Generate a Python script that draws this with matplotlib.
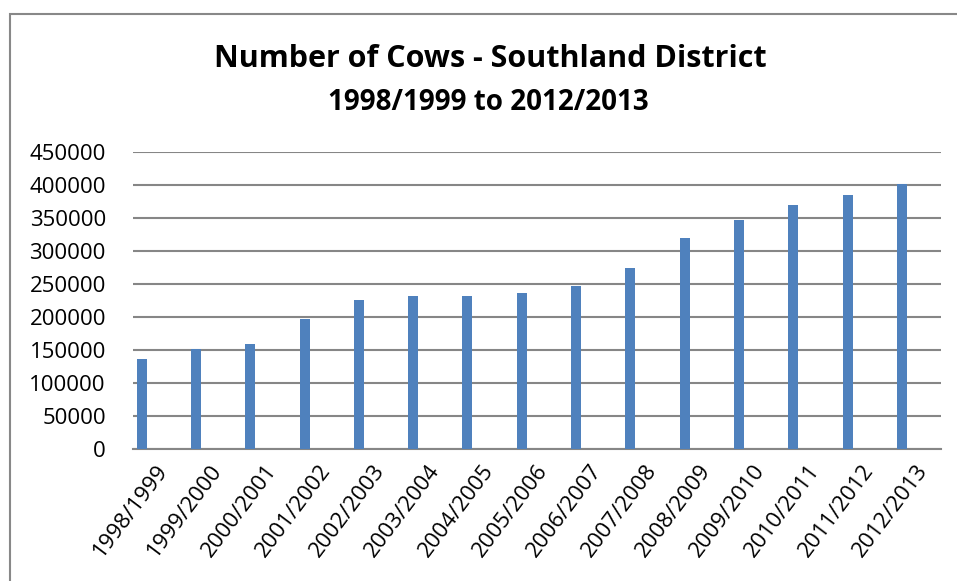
import matplotlib
matplotlib.use("Agg")
import matplotlib.pyplot as plt
import matplotlib.transforms as mtransforms
from matplotlib.patches import Rectangle

seasons = ["1998/1999", "1999/2000", "2000/2001", "2001/2002", "2002/2003",
           "2003/2004", "2004/2005", "2005/2006", "2006/2007", "2007/2008",
           "2008/2009", "2009/2010", "2010/2011", "2011/2012", "2012/2013"]
cows = [135500, 150500, 158500, 196500, 225000, 231300, 231800, 235400,
        246000, 273700, 318700, 346000, 369700, 384300, 400500]
yticks = list(range(0, 450001, 50000))

plt.rcParams['font.family'] = ['Open Sans', 'DejaVu Sans']

W, H = 957, 581
fig = plt.figure(figsize=(W / 100, H / 100), dpi=100)

# outer chart border (cut off at right/bottom)
fig.patches.append(Rectangle((9.5 / W, -0.1), 1.2, 1 - 13.7 / H + 0.1,
                             transform=fig.transFigure, fill=False,
                             edgecolor='#888888', linewidth=1.5))

left, right, top, bottom = 133, 941, 151.7, 448.7
ax = fig.add_axes([left / W, 1 - bottom / H, (right - left) / W, (bottom - top) / H])

x = list(range(len(seasons)))
ax.bar(x, cows, width=0.184, color='#4F81BD', zorder=3)
ax.set_xlim(-0.16, len(seasons) - 1 + 0.72)
ax.set_ylim(0, 450000)
ax.set_yticks(yticks)
ax.set_yticklabels([str(v) for v in yticks], fontsize=16)
ax.yaxis.grid(True, color='#868686', linewidth=1.5, zorder=0)
ax.set_axisbelow(True)
for s in ['top', 'right', 'left']:
    ax.spines[s].set_visible(False)
ax.spines['bottom'].set_color('#868686')
ax.spines['bottom'].set_linewidth(1.5)
ax.tick_params(axis='y', length=0, pad=19.5)
ax.tick_params(axis='x', length=0, pad=8)
ax.set_xticks(x)
ax.set_xticklabels(seasons, fontsize=16, rotation=53, ha='right', va='center',
                   rotation_mode='anchor')
offset = mtransforms.ScaledTranslation(22 / 100, -7 / 100, fig.dpi_scale_trans)
for lab in ax.get_xticklabels():
    lab.set_transform(lab.get_transform() + offset)

fig.text(490 / W, 1 - 59 / H, "Number of Cows - Southland District",
         ha='center', va='center', fontsize=22, fontweight='bold')
fig.text(488 / W, 1 - 102 / H, "1998/1999 to 2012/2013",
         ha='center', va='center', fontsize=20, fontweight='bold')

fig.savefig("out.png", dpi=100, facecolor='white')
